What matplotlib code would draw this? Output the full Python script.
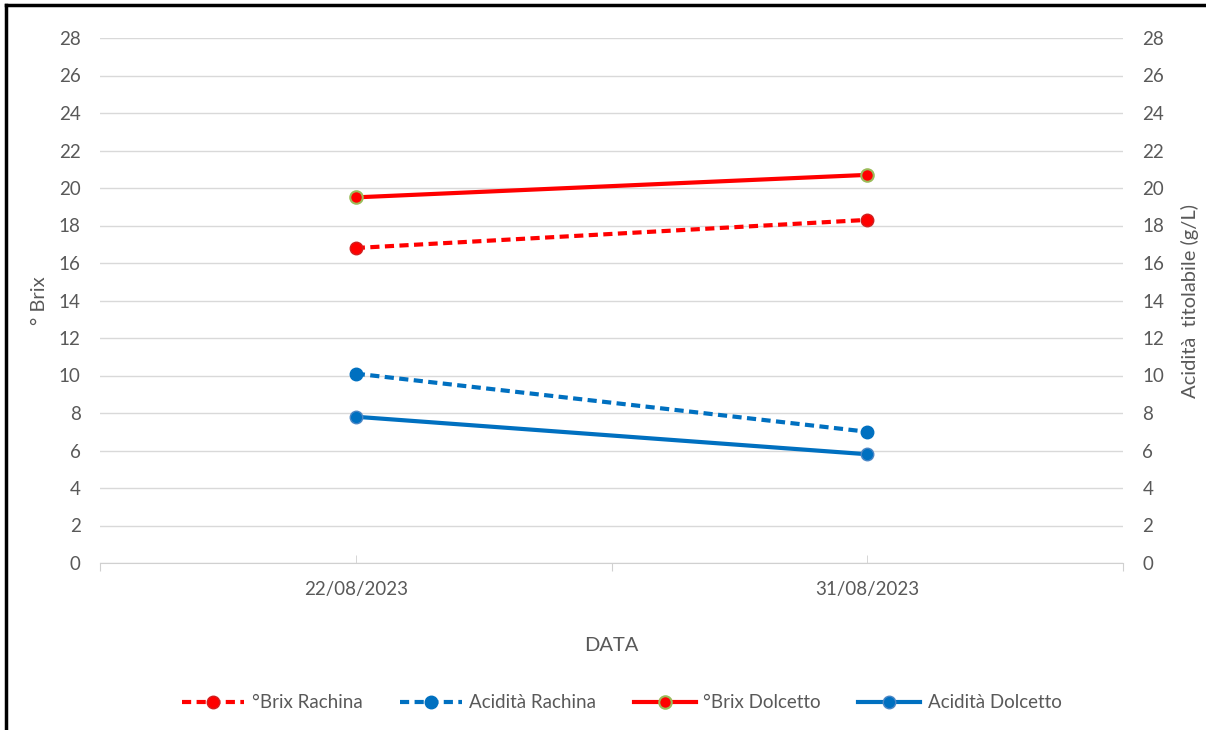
import matplotlib.pyplot as plt
from matplotlib.lines import Line2D

# data
dates = ["22/08/2023", "31/08/2023"]
brix_rachina = [16.8, 18.3]
acid_rachina = [10.1, 7.0]
brix_dolcetto = [19.5, 20.7]
acid_dolcetto = [7.8, 5.8]
yticks = list(range(0, 29, 2))

plt.rcParams['font.family'] = ['Lato', 'DejaVu Sans']
grey = '#595959'
red = '#FF0000'
blue = '#0070C0'

fig = plt.figure(figsize=(12.06, 7.30), dpi=100)
ax = fig.add_axes([100 / 1206, 1 - 563 / 730, 1023 / 1206, 525 / 730])
ax2 = ax.twinx()

x = list(range(len(dates)))

l1, = ax.plot(x, brix_rachina, color=red, lw=3, ls=(0, (2.2, 1.3)),
              marker='o', ms=9, mfc=red, mec='#D02020', zorder=3)
l3, = ax.plot(x, brix_dolcetto, color=red, lw=3, marker='o', ms=9,
              mfc=red, mec='#9BBB59', mew=1.5, zorder=3)
l2, = ax2.plot(x, acid_rachina, color=blue, lw=3, ls=(0, (2.2, 1.3)),
               marker='o', ms=9, mfc=blue, mec=blue, zorder=3)
l4, = ax2.plot(x, acid_dolcetto, color=blue, lw=3, marker='o', ms=9,
               mfc=blue, mec='#4A86C5', zorder=3)

for a in (ax, ax2):
    a.set_ylim(0, 28)
    a.set_yticks(yticks)
    a.set_xlim(-0.5, len(dates) - 0.5)
    for s in a.spines.values():
        s.set_visible(False)
    a.tick_params(axis='y', length=0, labelsize=13.5, labelcolor=grey, pad=14)

ax.yaxis.grid(True, color='#D9D9D9', lw=1)
ax.set_axisbelow(True)
ax.spines['bottom'].set_visible(True)
ax.spines['bottom'].set_color('#D0D0D0')

# category boundaries get outward ticks, category centres inward ones
ax.set_xticks([i - 0.5 for i in range(len(dates) + 1)])
ax.set_xticklabels([])
ax.set_xticks(x, minor=True)
ax.set_xticklabels(dates, minor=True)
ax.tick_params(axis='x', which='major', direction='out', length=6, color='#D0D0D0')
ax.tick_params(axis='x', which='minor', direction='in', length=6, color='#D0D0D0',
               labelsize=13.5, labelcolor=grey, pad=13)

ax.set_ylabel("° Brix", fontsize=14.5, color=grey, labelpad=8)
ax2.set_ylabel("Acidità  titolabile (g/L)", fontsize=14.5, color=grey, labelpad=12)
ax.set_xlabel("DATA", fontsize=14.5, color=grey, labelpad=28)

fig.legend([l1, l2, l3, l4],
           ["°Brix Rachina", "Acidità Rachina", "°Brix Dolcetto", "Acidità Dolcetto"],
           loc='center', bbox_to_anchor=(622 / 1206, 1 - 703 / 730), ncol=4,
           frameon=False, fontsize=13.5, labelcolor=grey, handlelength=3.3,
           columnspacing=2.0, handletextpad=0.4)

# border of the original screenshot (left and top only)
fig.add_artist(Line2D([6 / 1206, 6 / 1206], [0, 1 - 5 / 730], color='black', lw=2.5))
fig.add_artist(Line2D([6 / 1206, 1], [1 - 5 / 730, 1 - 5 / 730], color='black', lw=2.5))

fig.savefig('out.png', dpi=100)
